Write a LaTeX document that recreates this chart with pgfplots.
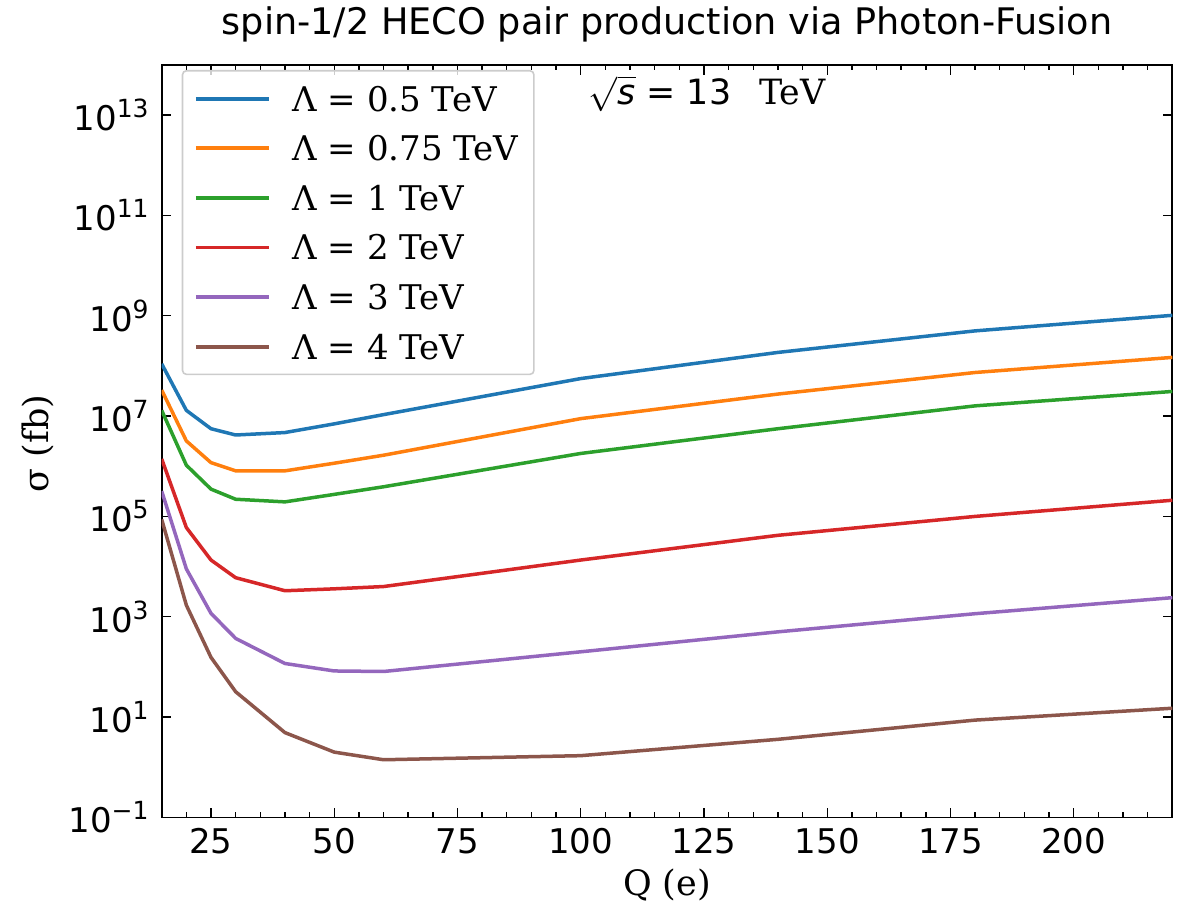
\documentclass[border=0pt]{standalone}
\usepackage{fontspec}
\setmainfont{DejaVu Serif}
\setsansfont{DejaVu Sans}
\usepackage{pgfplots}
\pgfplotsset{compat=1.18}
\definecolor{c1}{HTML}{1F77B4}
\definecolor{c2}{HTML}{FF7F0E}
\definecolor{c3}{HTML}{2CA02C}
\definecolor{c4}{HTML}{D62728}
\definecolor{c5}{HTML}{9467BD}
\definecolor{c6}{HTML}{8C564B}
\newcommand{\E}[1]{10\raisebox{6.5pt}{\fontsize{12.5}{12.5}\selectfont #1}}
\begin{document}
\begin{tikzpicture}
\begin{axis}[
  scale only axis, width=505.3pt, height=376.2pt,
  xmin=15, xmax=220, ymode=log, log basis y=10, ymin=1e-1, ymax=1e14,
  xtick={25,50,75,100,125,150,175,200},
  minor xtick={15,20,...,220},
  ytick={1e-1,1e1,1e3,1e5,1e7,1e9,1e11,1e13},
  yticklabels={\E{−1},\E{1},\E{3},\E{5},\E{7},\E{9},\E{11},\E{13}},
  yminorticks=false,
  tick align=inside,
  major tick length=4.8pt, minor tick length=2.6pt,
  every tick/.style={black, line width=0.7pt},
  axis line style={line width=0.85pt},
  /pgf/number format/assume math mode=true,
  xticklabel style={font=\sffamily\fontsize{17}{20}\selectfont, anchor=base, yshift=-18.3pt},
  yticklabel style={font=\sffamily\fontsize{17}{20}\selectfont, anchor=east, inner xsep=0pt, xshift=-6.35pt},
  title={spin-1/2 HECO pair production via Photon-Fusion},
  title style={at={(axis description cs:0.5,1)}, anchor=base, yshift=9.25pt, font=\sffamily\fontsize{18.3}{22}\selectfont},
  xlabel={Q (e)},
  xlabel style={at={(axis description cs:0.5,0)}, anchor=base, yshift=-39.15pt, font=\fontsize{17.5}{21}\selectfont},
  ylabel={σ (fb)},
  ylabel style={at={(axis description cs:-0.1229,0.4967)}, anchor=center, font=\fontsize{17.5}{21}\selectfont},
  legend style={at={(axis description cs:0,1)}, anchor=north west, xshift=10pt, yshift=-2.5pt,
    draw=black!20, line width=0.8pt, rounded corners=2pt, fill=white, fill opacity=0.8, text opacity=1,
    font=\fontsize{17}{20}\selectfont, inner xsep=5.8pt, inner ysep=4.15pt,
    row sep=5.3pt, column sep=0pt,
    cells={anchor=base west, inner sep=0pt, text height=14pt, text depth=4pt}},
  legend image code/.code={\draw[#1, line width=1.9pt] (0pt,6.15pt) -- (36.35pt,6.15pt); \path (0pt,0pt) (45.35pt,0pt);},
  every axis plot/.append style={line width=1.75pt, line join=round},
]
\addplot[c1] coordinates {(15,1.1e8) (20,1.3e7) (25,5.6e6) (30,4.2e6) (40,4.7e6) (50,7e6) (60,1.07e7) (100,5.6e7) (140,1.86e8) (180,5.0e8) (220,1.02e9)};
\addlegendentry{Λ = 0.5 TeV}
\addplot[c2] coordinates {(15,3.3e7) (20,3.2e6) (25,1.18e6) (30,8.1e5) (40,8.1e5) (50,1.15e6) (60,1.66e6) (100,8.9e6) (140,2.75e7) (180,7.4e7) (220,1.48e8)};
\addlegendentry{Λ = 0.75 TeV}
\addplot[c3] coordinates {(15,1.3e7) (20,1.05e6) (25,3.5e5) (30,2.2e5) (40,1.95e5) (50,2.75e5) (60,3.9e5) (100,1.8e6) (140,5.6e6) (180,1.6e7) (220,3.1e7)};
\addlegendentry{Λ = 1 TeV}
\addplot[c4] coordinates {(15,1.4e6) (20,6.0e4) (25,1.35e4) (30,6.0e3) (40,3.3e3) (50,3.6e3) (60,4.0e3) (100,1.35e4) (140,4.2e4) (180,1.0e5) (220,2.1e5)};
\addlegendentry{Λ = 2 TeV}
\addplot[c5] coordinates {(15,3.2e5) (20,9e3) (25,1.17e3) (30,3.7e2) (40,1.17e2) (50,83) (60,81) (100,2.0e2) (140,5.0e2) (180,1.15e3) (220,2.4e3)};
\addlegendentry{Λ = 3 TeV}
\addplot[c6] coordinates {(15,8.7e4) (20,1.7e3) (25,1.55e2) (30,32) (40,4.9) (50,2.0) (60,1.41) (100,1.7) (140,3.6) (180,8.7) (220,15)};
\addlegendentry{Λ = 4 TeV}
\node[anchor=base west, font=\fontsize{17.4}{20}\selectfont] at (axis description cs:0.4156,1) [yshift=-20pt]
  {$\sqrt{\mbox{\sffamily\itshape s}}$\sffamily\ = 13\hspace{14pt}\rmfamily TeV};
\end{axis}
\path ([shift={(-80.85pt,-46.15pt)}]current axis.south west) rectangle ([shift={(9.35pt,29.65pt)}]current axis.north east);
\end{tikzpicture}
\end{document}
